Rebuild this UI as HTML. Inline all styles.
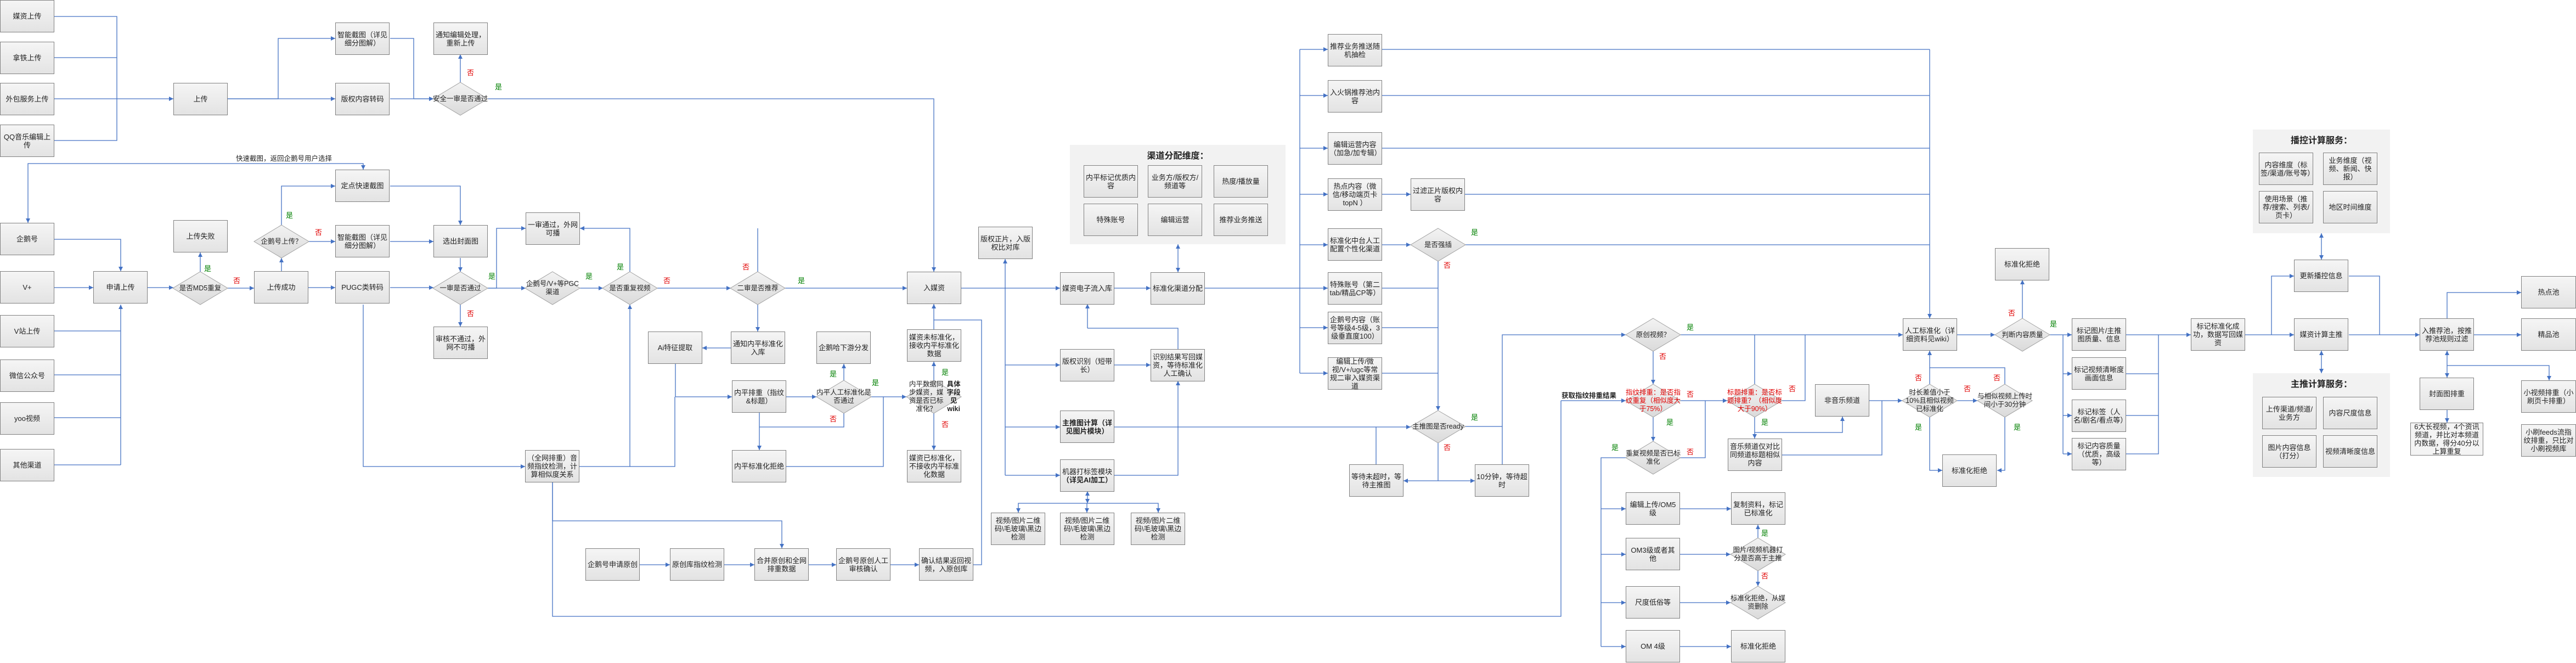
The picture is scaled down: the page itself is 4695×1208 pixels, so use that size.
<!DOCTYPE html>
<html><head><meta charset="utf-8">
<style>
html,body{margin:0;padding:0;background:#fff;}
#c{position:relative;width:4695px;height:1208px;overflow:hidden;font-family:"Liberation Sans","Noto Sans CJK SC",sans-serif;}
svg{position:absolute;left:0;top:0;}
.b{position:absolute;width:99px;height:59px;box-sizing:border-box;border:1px solid #808080;background:linear-gradient(#f5f5f5,#e3e3e3);display:flex;align-items:center;justify-content:center;text-align:center;font-size:13px;line-height:15px;padding:2px;color:#222;}
.t{position:absolute;width:100px;height:60px;display:flex;align-items:center;justify-content:center;text-align:center;font-size:12.5px;line-height:15px;color:#222;}
.r{color:#e00000;}
.p{position:absolute;background:#f2f2f2;}
.pt{position:absolute;font-size:16px;font-weight:bold;color:#222;text-align:center;}
.l{fill:none;stroke:#4472c4;stroke-width:1.3;}
.ar polyline{marker-end:url(#a);}
.dd polyline{marker-end:url(#a);marker-start:url(#s);}
.dm{fill:url(#g);stroke:#a0a0a0;stroke-width:1;}
.y{fill:#008000;font-size:13px;font-family:"Liberation Sans","Noto Sans CJK SC",sans-serif;}
.n{fill:#e00000;font-size:13px;font-family:"Liberation Sans","Noto Sans CJK SC",sans-serif;}
.lb{position:absolute;font-size:12.5px;color:#222;white-space:nowrap;}
</style></head><body><div id="c">

<div class="p" style="left:1950px;top:264px;width:393px;height:181px"></div>
<div class="pt" style="left:1950px;top:270px;width:393px">渠道分配维度：</div>
<div class="p" style="left:4106px;top:236px;width:250px;height:189px"></div>
<div class="pt" style="left:4106px;top:242px;width:250px">播控计算服务：</div>
<div class="p" style="left:4106px;top:680px;width:250px;height:189px"></div>
<div class="pt" style="left:4106px;top:686px;width:250px">主推计算服务：</div>

<svg width="4695" height="1208" viewBox="0 0 4695 1208">
<defs>
<marker id="a" markerWidth="9" markerHeight="9" refX="8" refY="4" orient="auto" markerUnits="userSpaceOnUse"><path d="M0,0 L8,4 L0,8 z" fill="#4472c4"/></marker>
<marker id="s" markerWidth="9" markerHeight="9" refX="8" refY="4" orient="auto-start-reverse" markerUnits="userSpaceOnUse"><path d="M0,0 L8,4 L0,8 z" fill="#4472c4"/></marker>
<linearGradient id="g" x1="0" y1="0" x2="0" y2="1"><stop offset="0" stop-color="#f3f3f3"/><stop offset="1" stop-color="#dadada"/></linearGradient>
</defs>
<g class="l">
<polyline points="99,30 213,30 213,256 99,256"/>
<polyline points="99,105 213,105"/>
<polyline points="99,603 220,603"/>
<polyline points="99,683 220,683"/>
<polyline points="99,761 220,761"/>
<polyline points="99,847 220,847"/>
<polyline points="711,70 754,70 754,180"/>
<polyline points="1007,879 1007,1123 2845,1123 2845,730"/>
<polyline points="1007,879 1007,949"/>
<polyline points="1148,850 1230,850 1230,723"/>
<polyline points="1231,663 1231,723"/>
<polyline points="1538,752 1538,778 1384,778"/>
<polyline points="1432,850 1610,850 1610,723"/>
<polyline points="1702,600 1702,583"/>
<polyline points="1832,525 1832,866"/>
<polyline points="2369,90 2369,680"/>
<polyline points="2196,525 2369,525"/>
<polyline points="2519,90 3517,90"/>
<polyline points="2519,174 3517,174"/>
<polyline points="2519,270 3517,270"/>
<polyline points="2670,354 3517,354"/>
<polyline points="2670,446 3517,446"/>
<polyline points="2519,525 2621,525"/>
<polyline points="2519,597 2621,597"/>
<polyline points="2519,680 2621,680"/>
<polyline points="2508,846 2508,778"/>
<polyline points="2670,777 2738,777"/>
<polyline points="3248,730 3290,730 3290,610"/>
<polyline points="3198,700 3198,610"/>
<polyline points="3063,834 3108,834 3108,730"/>
<polyline points="2963,834 2918,834 2918,1178"/>
<polyline points="3248,829 3430,829 3430,730"/>
<polyline points="3654,700 3654,670 3517,670"/>
<polyline points="3760,610 3760,827"/>
<polyline points="3875,681 3934,681"/>
<polyline points="3875,757 3934,757"/>
<polyline points="3875,827 3934,827 3934,610"/>
<polyline points="4281,503 4337,503 4337,610"/>
<polyline points="1381,495 1381,416"/>
<polyline points="2147,636 2147,598 1982,598"/>
</g>
<g class="l ar">
<polyline points="99,180 316,180"/>
<polyline points="415,180 507,180 507,70 611,70"/>
<polyline points="415,180 611,180"/>
<polyline points="711,180 790,180"/>
<polyline points="754,180 790,180"/>
<polyline points="839,150 839,99"/>
<polyline points="889,180 1702,180 1702,495"/>
<polyline points="99,436 220,436 220,494"/>
<polyline points="99,524 170,524"/>
<polyline points="220,847 220,555"/>
<polyline points="269,524 316,524"/>
<polyline points="365,495 365,460"/>
<polyline points="415,525 463,525"/>
<polyline points="513,494 513,470"/>
<polyline points="513,410 513,339 611,339"/>
<polyline points="563,440 611,440"/>
<polyline points="711,440 790,440"/>
<polyline points="711,339 839,339 839,410"/>
<polyline points="839,470 839,495"/>
<polyline points="562,524 611,524"/>
<polyline points="711,524 790,524"/>
<polyline points="839,555 839,595"/>
<polyline points="889,525 958,525"/>
<polyline points="889,525 905,525 905,416 958,416"/>
<polyline points="662,555 662,850 957,850"/>
<polyline points="1057,525 1099,525"/>
<polyline points="1148,495 1148,416 1057,416"/>
<polyline points="1198,525 1332,525"/>
<polyline points="1431,525 1653,525"/>
<polyline points="1381,555 1381,604"/>
<polyline points="1332,634 1280,634"/>
<polyline points="1231,723 1334,723"/>
<polyline points="1056,850 1148,850 1148,555"/>
<polyline points="1432,723 1488,723"/>
<polyline points="1538,693 1538,663"/>
<polyline points="1384,752 1384,820"/>
<polyline points="1588,723 1652,723"/>
<polyline points="1702,693 1702,659"/>
<polyline points="1702,752 1702,820"/>
<polyline points="1773,1029 1789,1029 1789,583 1702,583 1702,554"/>
<polyline points="1007,949 1425,949 1425,999"/>
<polyline points="1166,1029 1221,1029"/>
<polyline points="1320,1029 1375,1029"/>
<polyline points="1474,1029 1524,1029"/>
<polyline points="1623,1029 1675,1029"/>
<polyline points="1751,525 1932,525"/>
<polyline points="1832,525 1832,472"/>
<polyline points="1832,665 1932,665"/>
<polyline points="1832,778 1932,778"/>
<polyline points="1832,866 1932,866"/>
<polyline points="2031,525 2097,525"/>
<polyline points="1982,598 1982,554"/>
<polyline points="2031,665 2097,665"/>
<polyline points="2031,866 2147,866 2147,694"/>
<polyline points="1981,917 1856,917 1856,934"/>
<polyline points="1981,917 2111,917 2111,934"/>
<polyline points="2369,90 2420,90"/>
<polyline points="2369,174 2420,174"/>
<polyline points="2369,270 2420,270"/>
<polyline points="2369,354 2420,354"/>
<polyline points="2369,446 2420,446"/>
<polyline points="2369,525 2420,525"/>
<polyline points="2369,597 2420,597"/>
<polyline points="2369,680 2420,680"/>
<polyline points="2519,354 2571,354"/>
<polyline points="2519,446 2571,446"/>
<polyline points="3517,90 3517,580"/>
<polyline points="2621,475 2621,748"/>
<polyline points="2031,778 2571,778"/>
<polyline points="2621,807 2621,876 2558,876"/>
<polyline points="2621,876 2688,876"/>
<polyline points="2738,846 2738,610 2963,610"/>
<polyline points="3063,610 3468,610"/>
<polyline points="3013,640 3013,700"/>
<polyline points="2845,730 2963,730"/>
<polyline points="3063,730 3148,730"/>
<polyline points="3013,760 3013,804"/>
<polyline points="3198,760 3198,799"/>
<polyline points="3198,788 3358,788 3358,759"/>
<polyline points="2918,927 2963,927"/>
<polyline points="2918,1010 2963,1010"/>
<polyline points="2918,1098 2963,1098"/>
<polyline points="2918,1178 2963,1178"/>
<polyline points="3062,927 3155,927"/>
<polyline points="3062,1010 3154,1010"/>
<polyline points="3062,1098 3154,1098"/>
<polyline points="3062,1178 3155,1178"/>
<polyline points="3204,980 3204,956"/>
<polyline points="3204,1040 3204,1068"/>
<polyline points="3407,730 3467,730"/>
<polyline points="3517,700 3517,639"/>
<polyline points="3567,730 3604,730"/>
<polyline points="3517,760 3517,857 3540,857"/>
<polyline points="3654,760 3654,857 3640,857"/>
<polyline points="3567,610 3636,610"/>
<polyline points="3686,580 3686,510"/>
<polyline points="3736,610 3776,610"/>
<polyline points="3760,681 3776,681"/>
<polyline points="3760,757 3776,757"/>
<polyline points="3760,827 3776,827"/>
<polyline points="3875,610 3993,610"/>
<polyline points="4092,610 4181,610"/>
<polyline points="4140,610 4140,503 4181,503"/>
<polyline points="4281,610 4410,610"/>
<polyline points="4509,610 4595,610"/>
<polyline points="4460,580 4460,533 4595,533"/>
<polyline points="4460,666 4646,666 4646,693"/>
<polyline points="4460,747 4460,770"/>
<polyline points="1981,917 1981,934"/>
</g>
<g class="l dd">
<polyline points="51,406 51,298 662,298 662,309"/>
<polyline points="2147,445 2147,496"/>
<polyline points="4231,425 4231,473"/>
<polyline points="4231,680 4231,639"/>
<polyline points="4460,639 4460,688"/>
<polyline points="1982,895 1982,917"/>
</g>
<g>
<polygon class="dm" points="839,150 889,180 839,210 789,180"/>
<polygon class="dm" points="513,410 563,440 513,470 463,440"/>
<polygon class="dm" points="365,495 415,525 365,555 315,525"/>
<polygon class="dm" points="839,495 889,525 839,555 789,525"/>
<polygon class="dm" points="1007,495 1057,525 1007,555 957,525"/>
<polygon class="dm" points="1148,495 1198,525 1148,555 1098,525"/>
<polygon class="dm" points="1381,495 1431,525 1381,555 1331,525"/>
<polygon class="dm" points="1538,693 1588,723 1538,753 1488,723"/>
<polygon class="dm" points="1702,693 1752,723 1702,753 1652,723"/>
<polygon class="dm" points="2621,416 2671,446 2621,476 2571,446"/>
<polygon class="dm" points="2621,748 2671,777 2621,807 2571,777"/>
<polygon class="dm" points="3013,580 3063,610 3013,640 2963,610"/>
<polygon class="dm" points="3013,700 3063,730 3013,760 2963,730"/>
<polygon class="dm" points="3198,700 3248,730 3198,760 3148,730"/>
<polygon class="dm" points="3517,700 3567,730 3517,760 3467,730"/>
<polygon class="dm" points="3654,700 3704,730 3654,760 3604,730"/>
<polygon class="dm" points="3686,580 3736,610 3686,640 3636,610"/>
<polygon class="dm" points="3013,804 3063,834 3013,864 2963,834"/>
<polygon class="dm" points="3204,980 3254,1010 3204,1040 3154,1010"/>
<polygon class="dm" points="3204,1068 3254,1098 3204,1128 3154,1098"/>
</g>
<g>
<text class="n" x="851" y="137">否</text><text class="y" x="902" y="163">是</text>
<text class="y" x="372" y="494">是</text><text class="n" x="425" y="516">否</text>
<text class="y" x="521" y="397">是</text><text class="n" x="574" y="428">否</text>
<text class="n" x="851" y="576">否</text><text class="y" x="890" y="508">是</text>
<text class="y" x="1067" y="508">是</text><text class="y" x="1124" y="491">是</text>
<text class="n" x="1209" y="516">否</text><text class="n" x="1353" y="491">否</text>
<text class="y" x="1454" y="516">是</text>
<text class="y" x="1512" y="686">是</text><text class="n" x="1512" y="768">否</text>
<text class="y" x="1589" y="702">是</text>
<text class="y" x="1716" y="683">是</text><text class="n" x="1716" y="778">否</text>
<text class="y" x="2681" y="428">是</text><text class="n" x="2631" y="488">否</text>
<text class="y" x="2681" y="765">是</text><text class="n" x="2631" y="820">否</text>
<text class="y" x="3074" y="601">是</text><text class="n" x="3024" y="654">否</text>
<text class="n" x="3074" y="723">否</text><text class="y" x="3037" y="774">是</text>
<text class="n" x="3260" y="713">否</text><text class="y" x="3210" y="774">是</text>
<text class="y" x="2937" y="820">是</text><text class="n" x="3074" y="828">否</text>
<text class="y" x="3210" y="976">是</text><text class="n" x="3210" y="1054">否</text>
<text class="n" x="3490" y="693">否</text><text class="n" x="3579" y="713">否</text>
<text class="y" x="3490" y="783">是</text><text class="n" x="3633" y="693">否</text>
<text class="y" x="3670" y="783">是</text>
<text class="n" x="3660" y="575">否</text><text class="y" x="3736" y="595">是</text>
</g>
</svg>

<div class="lb" style="left:430px;top:278px">快速截图，返回企鹅号用户选择</div>
<div class="lb" style="left:2846px;top:710px;font-weight:bold">获取指纹排重结果</div>

<div class="b" style="left:0;top:0">媒资上传</div>
<div class="b" style="left:0;top:76px">拿铁上传</div>
<div class="b" style="left:0;top:151px">外包服务上传</div>
<div class="b" style="left:0;top:227px">QQ音乐编辑上传</div>
<div class="b" style="left:316px;top:151px">上传</div>
<div class="b" style="left:611px;top:41px">智能截图（详见细分图解）</div>
<div class="b" style="left:611px;top:151px">版权内容转码</div>
<div class="b" style="left:790px;top:41px">通知编辑处理，重新上传</div>
<div class="b" style="left:611px;top:309px">定点快速截图</div>
<div class="b" style="left:0;top:406px">企鹅号</div>
<div class="b" style="left:316px;top:401px">上传失败</div>
<div class="b" style="left:611px;top:410px">智能截图（详见细分图解）</div>
<div class="b" style="left:790px;top:410px">选出封面图</div>
<div class="b" style="left:170px;top:494px">申请上传</div>
<div class="b" style="left:463px;top:494px">上传成功</div>
<div class="b" style="left:611px;top:494px">PUGC类转码</div>
<div class="b" style="left:0;top:494px">V+</div>
<div class="b" style="left:0;top:574px">V站上传</div>
<div class="b" style="left:0;top:655px">微信公众号</div>
<div class="b" style="left:0;top:733px">yoo视频</div>
<div class="b" style="left:0;top:818px">其他渠道</div>
<div class="b" style="left:790px;top:595px">审核不通过，外网不可播</div>
<div class="b" style="left:958px;top:387px">一审通过，外网可播</div>
<div class="b" style="left:1653px;top:495px">入媒资</div>
<div class="b" style="left:1783px;top:413px">版权正片，入版权比对库</div>
<div class="b" style="left:1181px;top:604px">Ai特征提取</div>
<div class="b" style="left:1332px;top:604px">通知内平标准化入库</div>
<div class="b" style="left:1488px;top:604px">企鹅哈下游分发</div>
<div class="b" style="left:1653px;top:600px">媒资未标准化，接收内平标准化数据</div>
<div class="b" style="left:1334px;top:693px">内平排重（指纹&amp;标题）</div>
<div class="b" style="left:1653px;top:820px">媒资已标准化，不接收内平标准化数据</div>
<div class="b" style="left:1334px;top:820px">内平标准化拒绝</div>
<div class="b" style="left:957px;top:820px">（全网排重）音频指纹检测，计算相似度关系</div>
<div class="b" style="left:1067px;top:999px">企鹅号申请原创</div>
<div class="b" style="left:1221px;top:999px">原创库指纹检测</div>
<div class="b" style="left:1375px;top:999px">合并原创和全网排重数据</div>
<div class="b" style="left:1524px;top:999px">企鹅号原创人工审核确认</div>
<div class="b" style="left:1675px;top:999px">确认结果返回视频，入原创库</div>
<div class="b" style="left:1932px;top:496px">媒资电子流入库</div>
<div class="b" style="left:2097px;top:496px">标准化渠道分配</div>
<div class="b" style="left:1932px;top:636px">版权识别（短带长）</div>
<div class="b" style="left:2097px;top:636px">识别结果写回媒资，等待标准化人工确认</div>
<div class="b" style="left:1932px;top:748px;font-weight:bold">主推图计算（详见图片模块）</div>
<div class="b" style="left:1932px;top:837px"><span>机器打标签模块<br><b>（详见AI加工）</b></span></div>
<div class="b" style="left:1806px;top:934px">视频/图片二维码\毛玻璃\黑边检测</div>
<div class="b" style="left:1932px;top:934px">视频/图片二维码\毛玻璃\黑边检测</div>
<div class="b" style="left:2061px;top:934px">视频/图片二维码\毛玻璃\黑边检测</div>
<div class="b" style="left:1975px;top:301px">内平标记优质内容</div>
<div class="b" style="left:2092px;top:301px">业务方/版权方/频道等</div>
<div class="b" style="left:2212px;top:301px">热度/播放量</div>
<div class="b" style="left:1975px;top:371px">特殊账号</div>
<div class="b" style="left:2092px;top:371px">编辑运营</div>
<div class="b" style="left:2212px;top:371px">推荐业务推送</div>
<div class="b" style="left:2420px;top:62px">推荐业务推送随机抽检</div>
<div class="b" style="left:2420px;top:146px">入火锅推荐池内容</div>
<div class="b" style="left:2420px;top:241px">编辑运营内容（加急/加专辑）</div>
<div class="b" style="left:2420px;top:325px">热点内容（微信/移动端页卡topN ）</div>
<div class="b" style="left:2420px;top:416px">标准化中台人工配置个性化渠道</div>
<div class="b" style="left:2420px;top:496px">特殊账号（第二tab/精品CP等）</div>
<div class="b" style="left:2420px;top:568px">企鹅号内容（账号等级4-5级，3级垂直度100）</div>
<div class="b" style="left:2420px;top:651px">编辑上传/微视/V+/ugc等常规二审入媒资渠道</div>
<div class="b" style="left:2571px;top:325px">过滤正片版权内容</div>
<div class="b" style="left:2459px;top:846px">等待未超时，等待主推图</div>
<div class="b" style="left:2688px;top:846px">10分钟，等待超时</div>
<div class="b" style="left:3308px;top:700px">非音乐频道</div>
<div class="b" style="left:3468px;top:580px">人工标准化（详细资料见wiki）</div>
<div class="b" style="left:3636px;top:452px">标准化拒绝</div>
<div class="b" style="left:3540px;top:828px">标准化拒绝</div>
<div class="b" style="left:3149px;top:799px">音乐频道仅对比同频道标题相似内容</div>
<div class="b" style="left:2963px;top:897px">编辑上传/OM5级</div>
<div class="b" style="left:3155px;top:897px">复制资料，标记已标准化</div>
<div class="b" style="left:2963px;top:980px">OM3级或者其他</div>
<div class="b" style="left:2963px;top:1068px">尺度低俗等</div>
<div class="b" style="left:2963px;top:1148px">OM 4级</div>
<div class="b" style="left:3155px;top:1148px">标准化拒绝</div>
<div class="b" style="left:3776px;top:580px">标记图片/主推图质量、信息</div>
<div class="b" style="left:3776px;top:651px">标记视频清晰度画面信息</div>
<div class="b" style="left:3776px;top:728px">标记标签（人名/剧名/看点等）</div>
<div class="b" style="left:3776px;top:798px">标记内容质量（优质，高级等）</div>
<div class="b" style="left:3993px;top:580px">标记标准化成功，数据写回媒资</div>
<div class="b" style="left:4181px;top:473px">更新播控信息</div>
<div class="b" style="left:4181px;top:580px">媒资计算主推</div>
<div class="b" style="left:4117px;top:278px">内容维度（标签/渠道/账号等）</div>
<div class="b" style="left:4234px;top:278px">业务维度（视频、新闻、快报）</div>
<div class="b" style="left:4117px;top:348px">使用场景（推荐/搜索、列表/页卡）</div>
<div class="b" style="left:4234px;top:348px">地区时间维度</div>
<div class="b" style="left:4123px;top:723px">上传渠道/频道/业务方</div>
<div class="b" style="left:4234px;top:723px">内容尺度信息</div>
<div class="b" style="left:4123px;top:793px">图片内容信息（打分）</div>
<div class="b" style="left:4234px;top:793px">视频清晰度信息</div>
<div class="b" style="left:4410px;top:580px">入推荐池，按推荐池规则过滤</div>
<div class="b" style="left:4595px;top:503px;width:100px">热点池</div>
<div class="b" style="left:4595px;top:580px;width:100px">精品池</div>
<div class="b" style="left:4410px;top:688px">封面图排重</div>
<div class="b" style="left:4595px;top:693px;width:100px">小视频排重（小刷页卡排重）</div>
<div class="b" style="left:4393px;top:770px;width:133px;height:60px;background:#f4f4f4">6大长视频，4个资讯频道，并比对本频道内数据，得分40分以上算重复</div>
<div class="b" style="left:4595px;top:773px;width:100px">小刷feeds流指纹排重，只比对小刷视频库</div>

<div class="t" style="left:789px;top:150px">安全一审是否通过</div>
<div class="t" style="left:463px;top:410px">企鹅号上传？</div>
<div class="t" style="left:315px;top:495px">是否MD5重复</div>
<div class="t" style="left:789px;top:495px">一审是否通过</div>
<div class="t" style="left:957px;top:495px">企鹅号/V+等PGC渠道</div>
<div class="t" style="left:1098px;top:495px">是否重复视频</div>
<div class="t" style="left:1331px;top:495px">二审是否推荐</div>
<div class="t" style="left:1488px;top:693px">内平人工标准化是否通过</div>
<div class="t" style="left:1652px;top:693px">内平数据同步媒资，媒资是否已标准化？<b>具体字段见wiki</b></div>
<div class="t" style="left:2571px;top:416px">是否强插</div>
<div class="t" style="left:2571px;top:747px">主推图是否ready</div>
<div class="t" style="left:2963px;top:580px">原创视频？</div>
<div class="t r" style="left:2963px;top:700px">指纹排重：是否指纹重复（相似度大于75%）</div>
<div class="t r" style="left:3148px;top:700px">标题排重：是否标题排重？（相似度大于90%）</div>
<div class="t" style="left:3467px;top:700px">时长差值小于10%且相似视频已标准化</div>
<div class="t" style="left:3604px;top:700px">与相似视频上传时间小于30分钟</div>
<div class="t" style="left:3636px;top:580px">判断内容质量</div>
<div class="t" style="left:2963px;top:804px">重复视频是否已标准化</div>
<div class="t" style="left:3154px;top:980px">图片/视频机器打分是否高于主推</div>
<div class="t" style="left:3154px;top:1068px">标准化拒绝，从媒资删除</div>

</div></body></html>
